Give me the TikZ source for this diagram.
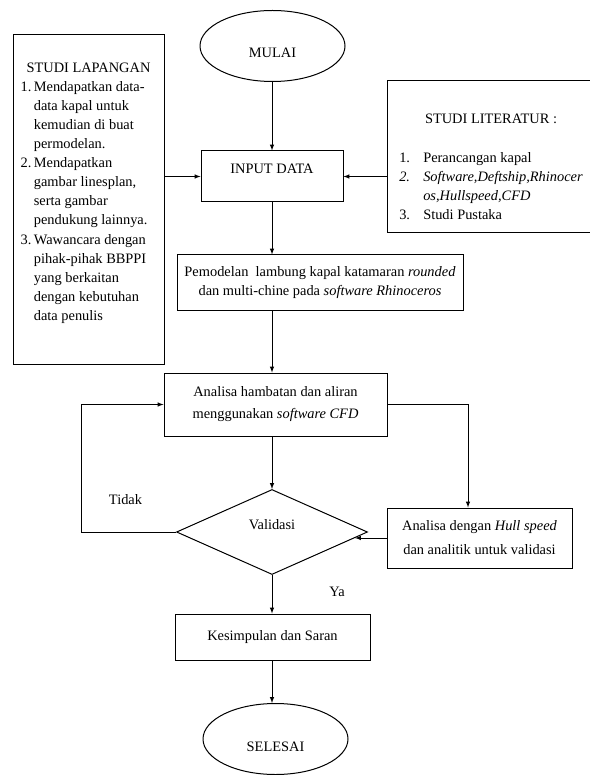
\documentclass[tikz,border=0pt]{standalone}
\usepackage{fontspec}
\setmainfont{Liberation Serif}
\usepackage{tikz}
\usetikzlibrary{arrows}
\usetikzlibrary{shapes.geometric}
\tikzset{arrow/.style={->, >=latex}}
\tikzset{box/.style={draw, rectangle, align=center, inner sep=0pt}}
\tikzset{term/.style={draw, ellipse, minimum width=145pt, minimum height=71pt, inner sep=0pt}}
\tikzset{decision/.style={draw, diamond, aspect=2.25, minimum width=191pt, minimum height=85pt, inner sep=0pt}}

\begin{document}
\begin{tikzpicture}[x=1pt, y=-1pt, line width=1pt, font=\fontsize{14.4}{19.1}\selectfont]
    \useasboundingbox (0,0) rectangle (589,775);
    \node[term] (mulai) at (272.5,46) {\rule{0pt}{23.5pt}MULAI};
    \node[box, minimum width=142pt, minimum height=51pt] (input) at (272,176.5) {INPUT DATA\rule[-16pt]{0pt}{16pt}};
    \node[box, minimum width=151pt, minimum height=329pt] (lapangan) at (88.5,199.5) {%
      \begin{tabular}{@{}l@{\hspace{2.5pt}}l@{}}
        \multicolumn{2}{c}{STUDI LAPANGAN}\\
        1. & Mendapatkan data-\\
           & data kapal untuk\\
           & kemudian di buat\\
           & permodelan.\\
        2. & Mendapatkan\\
           & gambar linesplan,\\
           & serta gambar\\
           & pendukung lainnya.\\
        3. & Wawancara dengan\\
           & pihak-pihak BBPPI\\
           & yang berkaitan\\
           & dengan kebutuhan\\
           & data penulis\rule[-19.7pt]{0pt}{19.7pt}
      \end{tabular}};
    \node[box, minimum width=208pt, minimum height=152pt] (literatur) at (491,157) {%
      \begin{tabular}{@{}p{24pt}@{}l@{}}
        \multicolumn{2}{c}{\rule{0pt}{34.4pt}STUDI LITERATUR :}\\[20pt]
        1. & Perancangan kapal\\
        \textit{2.} & \textit{Software,Deftship,Rhinocer}\\
           & \textit{os,Hullspeed,CFD}\\
        3. & Studi Pustaka
      \end{tabular}};
    \node[box, minimum width=286pt, minimum height=55pt] (pemodelan) at (320,282.5)
      {Pemodelan\ \ lambung kapal katamaran \textit{rounded}\\[-1pt]dan multi-chine pada \textit{software Rhinoceros}};
    \node[box, minimum width=223pt, minimum height=63pt] (analisa) at (275.5,404.5)
      {Analisa hambatan dan aliran\\[3pt]menggunakan \textit{software CFD}};
    \node[decision] (valid) at (272,532) {Validasi\rule[-16pt]{0pt}{16pt}};
    \node[box, minimum width=185pt, minimum height=60pt] (hull) at (479.5,538)
      {Analisa dengan \textit{Hull speed}\\[5pt]dan analitik untuk validasi};
    \node[box, minimum width=195pt, minimum height=46pt] (simpulan) at (272.5,637) {Kesimpulan dan Saran};
    \node[term] (selesai) at (275.5,739) {\rule{0pt}{25.5pt}SELESAI};
    \node (tidak) at (125.5,500) {Tidak};
    \node (ya) at (337,592) {Ya};
    \coordinate (loop) at (81,404.5);
    \draw[arrow] (mulai.south -| input) -- (input.north);
    \draw[arrow] (input.west -| lapangan.east) -- (input.west);
    \draw[arrow] (input.east -| literatur.west) -- (input.east);
    \draw[arrow] (input.south) -- (input.south |- pemodelan.north);
    \draw[arrow] (pemodelan.south -| input) -- (analisa.north -| input);
    \draw[arrow] (analisa.south -| valid) -- (valid.north);
    \draw[arrow] (analisa.east) -| ([xshift=-11.5pt]hull.north);
    \draw[arrow] (hull.west) -- (hull.west -| valid.-4);
    \draw[arrow] (valid.west) -| (loop) -- (analisa.west);
    \draw[arrow] (valid.south) -- (simpulan.north -| valid);
    \draw[arrow] (simpulan.south -| valid) -- (selesai.north -| valid);
  \end{tikzpicture}
\end{document}
